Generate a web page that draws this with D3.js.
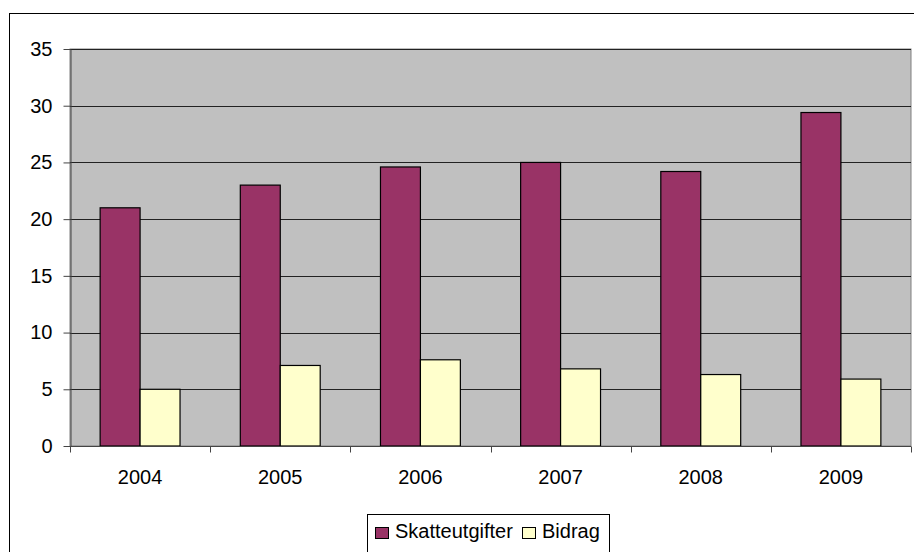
<!DOCTYPE html>
<html>
<head>
<meta charset="utf-8">
<script src="https://cdn.jsdelivr.net/npm/d3@7"></script>
<style>
  body { margin: 0; background: #fff; }
  svg { display: block; font-family: Arial, "Liberation Sans", sans-serif; }
</style>
</head>
<body>
<svg id="chart" width="914" height="552"></svg>
<script>
const years = ['2004', '2005', '2006', '2007', '2008', '2009'];
const skatteutgifter = [21.0, 23.0, 24.6, 25.0, 24.2, 29.4];
const bidrag = [5.0, 7.1, 7.6, 6.8, 6.3, 5.9];
const seriesNames = ['Skatteutgifter', 'Bidrag'];
const seriesColors = ['#993366', '#ffffcc'];
const yTicks = [0, 5, 10, 15, 20, 25, 30, 35];

const svg = d3.select('#chart');
const fs = 20;

// yttre ram
svg.append('rect')
  .attr('x', 9.5).attr('y', 13.5)
  .attr('width', 920).attr('height', 560)
  .attr('fill', '#fff').attr('stroke', '#000');

const m = { left: 70, top: 49, right: 911, bottom: 446 };

const x0 = d3.scaleBand().domain(years).range([m.left, m.right]).paddingInner(0.43).paddingOuter(0.215);
const x1 = d3.scaleBand().domain(seriesNames).range([0, x0.bandwidth()]);
const y = d3.scaleLinear().domain([0, 35]).range([m.bottom, m.top]);

// plottyta
svg.append('rect')
  .attr('x', m.left).attr('y', m.top)
  .attr('width', m.right - m.left).attr('height', m.bottom - m.top)
  .attr('fill', '#c0c0c0').attr('stroke', '#808080');

// stödlinjer
svg.append('g')
  .selectAll('line')
  .data(yTicks.slice(1))
  .join('line')
  .attr('x1', m.left).attr('x2', m.right)
  .attr('y1', d => Math.round(y(d)) + 0.5).attr('y2', d => Math.round(y(d)) + 0.5)
  .attr('stroke', '#222');

// staplar
const rows = years.map((yr, i) => ({ yr, vals: [skatteutgifter[i], bidrag[i]] }));
svg.append('g')
  .selectAll('g')
  .data(rows)
  .join('g')
  .attr('transform', d => `translate(${x0(d.yr)},0)`)
  .selectAll('rect')
  .data(d => d.vals.map((v, j) => ({ v, name: seriesNames[j], j })))
  .join('rect')
  .attr('x', d => x1(d.name))
  .attr('y', d => y(d.v))
  .attr('width', x1.bandwidth())
  .attr('height', d => y(0) - y(d.v))
  .attr('fill', d => seriesColors[d.j])
  .attr('stroke', '#000')
  .attr('stroke-width', 1.2);

// y-axel
const yAxis = svg.append('g')
  .attr('transform', `translate(${m.left + 0.5},0)`)
  .call(d3.axisLeft(y).tickValues(yTicks).tickSize(7).tickPadding(11).tickSizeOuter(0));
yAxis.attr('font-size', null).attr('font-family', null);
yAxis.select('.domain').attr('stroke', '#444');
yAxis.selectAll('.tick line').attr('stroke', '#444');
yAxis.selectAll('text').style('font-size', fs + 'px').attr('fill', '#000');

// x-axel
const step = x0.step();
const xAxis = svg.append('g')
  .attr('transform', `translate(0,${m.bottom + 0.5})`);
xAxis.append('line')
  .attr('x1', m.left).attr('x2', m.right)
  .attr('stroke', '#444');
xAxis.selectAll('line.t')
  .data(d3.range(years.length + 1))
  .join('line')
  .attr('class', 't')
  .attr('x1', i => Math.round(m.left + i * step) + 0.5)
  .attr('x2', i => Math.round(m.left + i * step) + 0.5)
  .attr('y1', 0).attr('y2', 6)
  .attr('stroke', '#444');
xAxis.selectAll('text')
  .data(years)
  .join('text')
  .attr('x', d => x0(d) + x0.bandwidth() / 2)
  .attr('y', 37)
  .attr('text-anchor', 'middle')
  .style('font-size', fs + 'px')
  .text(d => d);

// förklaring
const leg = svg.append('g');
leg.append('rect')
  .attr('x', 367.5).attr('y', 514.5)
  .attr('width', 242).attr('height', 42)
  .attr('fill', '#fff').attr('stroke', '#000');
const legX = [375, 522];
seriesNames.forEach((n, j) => {
  leg.append('rect')
    .attr('x', legX[j] + 0.5).attr('y', 527.5)
    .attr('width', 13).attr('height', 11)
    .attr('fill', seriesColors[j]).attr('stroke', '#000');
  leg.append('text')
    .attr('x', legX[j] + 20).attr('y', 538)
    .style('font-size', fs + 'px')
    .text(n);
});
</script>
</body>
</html>
